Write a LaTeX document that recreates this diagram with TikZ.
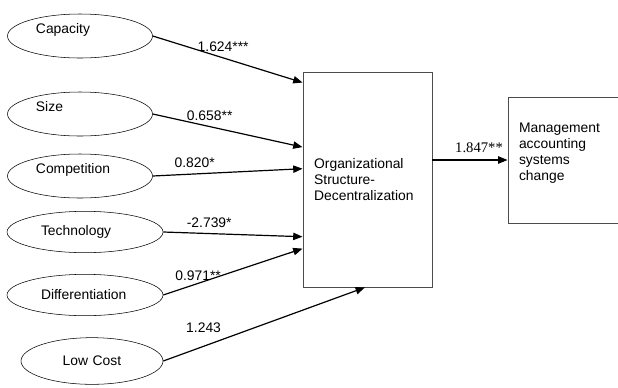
\documentclass[tikz,border=0pt]{standalone}
\usepackage{fontspec}
\setmainfont{Liberation Sans}
\newfontfamily\serifnum{Liberation Serif}
\usetikzlibrary{shapes.geometric,arrows.meta,calc,positioning}
\tikzset{
  factor/.style={ % image of an exogenous construct
    draw, ellipse, thin, inner sep=0pt,
    minimum width=108.75pt, minimum height=33pt,
    text width=66pt, align=left, text=black
  },
  lifted/.style={ % text sits above the middle
    text depth=12pt
  },
  block/.style={ % image of an endogenous construct
    draw=black!70, rectangle, line width=0.7pt, inner sep=0pt,
    align=left, text=black
  },
  path/.style={ % structural path
    line width=0.9pt, -{Triangle[length=7pt,width=5.5pt]}
  },
  coef/.style={ % path coefficient
    inner sep=0pt, above=4pt
  }
}
\begin{document}
\begin{tikzpicture}[x=0.75pt, y=-0.75pt,
    font=\fontsize{10.4}{12}\selectfont]
  \useasboundingbox (0,0) rectangle (618,387);

  \node[factor,lifted] (cap)  at (80,36)  {Capacity};
  \node[factor,lifted] (size) at (80,114) {Size};
  \node[factor,lifted] (comp) at (80,176) {Competition};
  \node[factor,minimum width=117pt,minimum height=31pt] (tech) at (85,232) {Technology};
  \node[factor,minimum width=117pt,minimum height=31pt] (diff) at (85,295) {Differentiation};
  \node[factor,minimum width=106.5pt,minimum height=35pt,text width=44pt] (cost) at (92,361) {Low Cost};

  \node[block,minimum width=96.75pt,minimum height=161.25pt,text width=80pt] (org) at (367.5,179.5)
    {Organizational\\Structure-\\Decentralization};
  \node[block,minimum width=97.5pt,minimum height=94.5pt,text width=81pt,text depth=49pt] (mas) at (573,160)
    {Management\\accounting\\systems\\change};

  \draw[path] (cap.east)  -- node[coef,pos=0.47] {1.624***}
    ($(org.north west)!0.051!(org.south west)$);
  \draw[path] (size.east) -- node[coef,pos=0.38] {0.658**}
    ($(org.north west)!0.35!(org.south west)$);
  \draw[path] (comp.east) -- node[coef,pos=0.28] {0.820*}
    ($(org.north west)!0.45!(org.south west)$);
  \draw[path] (tech.east) -- node[coef,pos=0.33] {-2.739*}
    ($(org.north west)!0.765!(org.south west)$);
  \draw[path] (diff.east) -- node[coef,pos=0.25,above=2pt] {0.971**}
    ($(org.north west)!0.82!(org.south west)$);
  \draw[path] (cost.east) -- node[coef,pos=0.2,above=10pt] {1.243}
    ($(org.south west)!0.48!(org.south east)$);

  \draw[path] (org.east |- mas.west) -- node[coef,pos=0.62,above=5pt] {\serifnum\fontsize{11}{12}\selectfont 1.847**} (mas.west);
\end{tikzpicture}
\end{document}
